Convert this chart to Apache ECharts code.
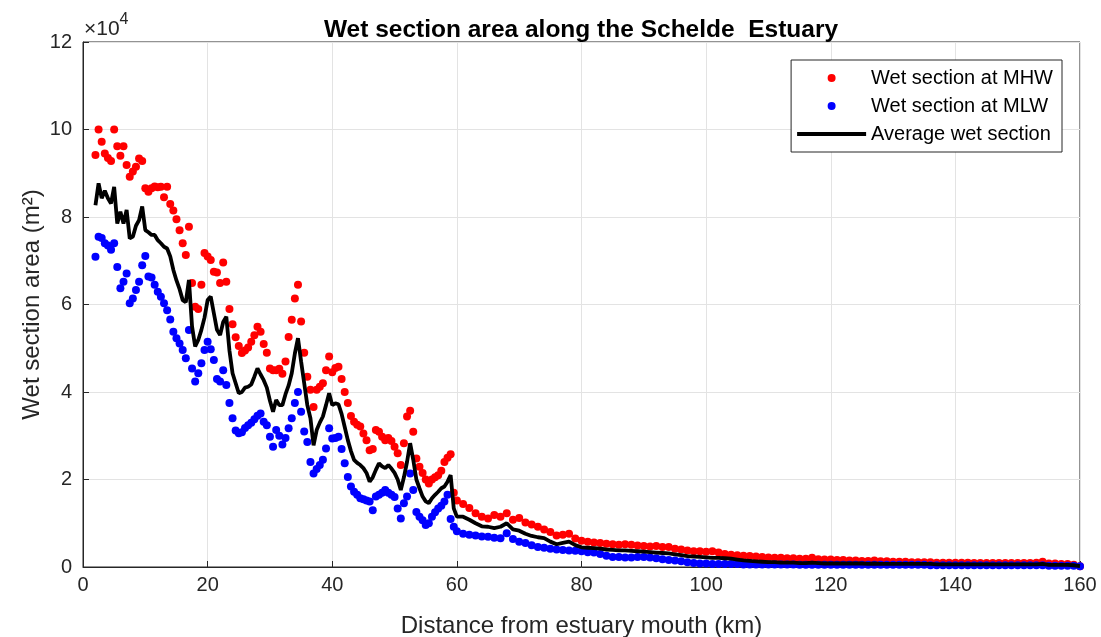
<!DOCTYPE html>
<html>
<head>
<meta charset="utf-8">
<script src="https://cdn.jsdelivr.net/npm/echarts@6/dist/echarts.min.js"></script>
<style>
  html, body { margin: 0; padding: 0; background: #fff; }
  #chart { width: 1101px; height: 637px; }
</style>
</head>
<body>
<div id="chart"></div>
<script>
// distance from estuary mouth (km)
var stationKm = [
  2,2.5,3,3.5,4,4.5,5,5.5,6,6.5,
  7,7.5,8,8.5,9,9.5,10,10.5,11,11.5,
  12,12.5,13,13.5,14,14.5,15,15.5,16,16.5,
  17,17.5,18,18.5,19,19.5,20,20.5,21,21.5,
  22,22.5,23,23.5,24,24.5,25,25.5,26,26.5,
  27,27.5,28,28.5,29,29.5,30,30.5,31,31.5,
  32,32.5,33,33.5,34,34.5,35,35.5,36,36.5,
  37,37.5,38,38.5,39,39.5,40,40.5,41,41.5,
  42,42.5,43,43.5,44,44.5,45,45.5,46,46.5,
  47,47.5,48,48.5,49,49.5,50,50.5,51,51.5,
  52,52.5,53,53.5,54,54.5,55,55.5,56,56.5,
  57,57.5,58,58.5,59,59.5,60,
  61,62,63,64,65,66,67,68,69,70,
  71,72,73,74,75,76,77,78,79,80,
  81,82,83,84,85,86,87,88,89,90,
  91,92,93,94,95,96,97,98,99,100,
  101,102,103,104,105,106,107,108,109,110,
  111,112,113,114,115,116,117,118,119,120,
  121,122,123,124,125,126,127,128,129,130,
  131,132,133,134,135,136,137,138,139,140,
  141,142,143,144,145,146,147,148,149,150,
  151,152,153,154,155,156,157,158,159,160
];

// wet section at MHW (x 10^4 m2)
var mhwArea = [
  9.42,10.0,9.72,9.45,9.35,9.28,10.0,9.62,9.40,9.62,
  9.19,8.92,9.04,9.15,9.34,9.28,8.66,8.58,8.66,8.70,
  8.68,8.69,8.45,8.69,8.30,8.15,7.95,7.70,7.40,7.13,
  7.78,6.49,5.95,5.90,6.45,7.18,7.10,7.02,6.75,6.73,
  6.49,6.96,6.52,5.90,5.55,5.25,5.05,4.89,4.95,5.02,
  5.15,5.30,5.49,5.38,5.10,4.90,4.54,4.50,4.50,4.53,
  4.42,4.70,5.26,5.65,6.14,6.45,5.61,4.90,4.35,4.05,
  3.66,4.05,4.12,4.20,4.50,4.81,4.45,4.55,4.58,4.30,
  4.00,3.75,3.45,3.32,3.25,3.21,3.05,2.90,2.67,2.70,
  3.13,3.09,2.98,2.90,2.95,2.88,2.75,2.60,2.33,2.83,
  3.44,3.57,3.09,2.48,2.29,2.15,2.00,1.91,2.00,2.05,
  2.10,2.20,2.40,2.50,2.58,1.70,1.52,
  1.44,1.35,1.23,1.15,1.11,1.19,1.15,1.23,1.08,1.12,
  1.02,0.97,0.92,0.86,0.80,0.72,0.74,0.76,0.65,0.60,
  0.58,0.56,0.55,0.53,0.52,0.51,0.52,0.51,0.49,0.48,
  0.47,0.48,0.46,0.46,0.42,0.40,0.38,0.36,0.36,0.35,
  0.36,0.33,0.30,0.28,0.27,0.26,0.25,0.24,0.23,0.22,
  0.21,0.21,0.20,0.20,0.19,0.19,0.21,0.18,0.17,0.17,
  0.16,0.16,0.15,0.15,0.14,0.14,0.15,0.13,0.13,0.12,
  0.12,0.12,0.11,0.11,0.11,0.11,0.10,0.10,0.10,0.10,
  0.10,0.10,0.09,0.09,0.09,0.09,0.09,0.09,0.09,0.09,
  0.09,0.09,0.10,0.12,0.08,0.08,0.07,0.07,0.05,0.02
];

// wet section at MLW (x 10^4 m2)
var mlwArea = [
  7.09,7.55,7.52,7.40,7.35,7.25,7.40,6.86,6.37,6.52,
  6.71,6.03,6.14,6.33,6.52,6.90,7.11,6.64,6.62,6.45,
  6.29,6.18,6.03,5.87,5.66,5.38,5.23,5.11,4.96,4.77,
  5.42,4.54,4.24,4.43,4.66,4.96,5.15,4.98,4.73,4.30,
  4.24,4.50,4.16,3.75,3.40,3.12,3.06,3.08,3.18,3.24,
  3.30,3.38,3.46,3.51,3.32,3.24,2.98,2.75,3.13,3.00,
  2.80,2.95,3.17,3.40,3.75,4.00,3.55,3.10,2.86,2.40,
  2.14,2.24,2.33,2.45,2.71,3.17,2.94,2.95,2.98,2.70,
  2.37,2.06,1.84,1.72,1.65,1.57,1.55,1.52,1.50,1.30,
  1.61,1.65,1.70,1.76,1.70,1.65,1.60,1.34,1.11,1.46,
  1.61,2.14,1.76,1.26,1.15,1.07,0.96,1.00,1.15,1.25,
  1.34,1.40,1.50,1.65,1.10,0.92,0.82,
  0.76,0.74,0.72,0.70,0.69,0.67,0.66,0.77,0.64,0.58,
  0.55,0.50,0.46,0.44,0.42,0.40,0.39,0.38,0.37,0.36,
  0.34,0.33,0.30,0.26,0.23,0.23,0.22,0.22,0.23,0.23,
  0.22,0.20,0.18,0.16,0.15,0.13,0.11,0.09,0.08,0.08,
  0.07,0.07,0.07,0.07,0.07,0.06,0.06,0.06,0.06,0.06,
  0.06,0.06,0.06,0.06,0.05,0.05,0.05,0.05,0.05,0.05,
  0.05,0.05,0.05,0.05,0.05,0.05,0.05,0.05,0.05,0.05,
  0.05,0.05,0.05,0.05,0.05,0.04,0.04,0.04,0.04,0.04,
  0.04,0.04,0.04,0.04,0.04,0.04,0.04,0.04,0.04,0.04,
  0.04,0.04,0.04,0.04,0.03,0.03,0.03,0.03,0.03,0.02
];

// average wet section (x 10^4 m2)
var avgArea = [
  8.27,8.77,8.43,8.60,8.43,8.31,8.69,7.85,8.12,7.85,
  8.16,7.51,7.55,7.80,7.93,8.24,7.70,7.65,7.59,7.59,
  7.47,7.40,7.32,7.28,7.10,6.79,6.55,6.35,6.10,6.05,
  6.56,5.50,5.04,5.19,5.42,5.70,6.10,6.18,5.80,5.42,
  5.30,5.60,5.72,4.95,4.43,4.20,3.97,4.00,4.10,4.12,
  4.17,4.35,4.54,4.40,4.27,4.10,3.80,3.55,3.82,3.70,
  3.70,3.95,4.15,4.43,4.88,5.23,4.70,4.20,3.70,3.40,
  2.78,3.13,3.30,3.44,3.70,3.97,3.70,3.74,3.72,3.50,
  3.20,2.90,2.65,2.45,2.38,2.33,2.26,2.15,1.95,2.05,
  2.22,2.37,2.30,2.26,2.33,2.25,2.15,2.00,1.76,2.05,
  2.40,2.83,2.45,2.00,1.80,1.61,1.50,1.46,1.57,1.65,
  1.72,1.80,1.84,1.95,2.10,1.34,1.15,
  1.15,1.08,1.00,0.93,0.92,0.89,0.92,1.00,0.86,0.83,
  0.76,0.71,0.68,0.66,0.58,0.52,0.55,0.58,0.50,0.45,
  0.44,0.43,0.42,0.40,0.39,0.38,0.38,0.37,0.36,0.35,
  0.34,0.33,0.32,0.31,0.29,0.27,0.25,0.24,0.23,0.22,
  0.21,0.21,0.20,0.19,0.17,0.15,0.14,0.13,0.12,0.11,
  0.11,0.10,0.10,0.10,0.09,0.09,0.10,0.09,0.08,0.08,
  0.08,0.08,0.08,0.08,0.08,0.07,0.08,0.07,0.07,0.07,
  0.07,0.07,0.07,0.07,0.07,0.07,0.06,0.06,0.06,0.06,
  0.06,0.06,0.06,0.06,0.06,0.06,0.06,0.06,0.06,0.06,
  0.06,0.06,0.06,0.07,0.05,0.05,0.05,0.05,0.04,0.02
];

var xTicks = [0, 20, 40, 60, 80, 100, 120, 140, 160];
var yTicks = [0, 2, 4, 6, 8, 10, 12];

function pairs(vals) {
  return stationKm.map(function (km, i) { return [km, vals[i]]; });
}

var font = 'Liberation Sans, Arial, Helvetica, sans-serif';
var chart = echarts.init(document.getElementById('chart'));

var option = {
  animation: false,
  backgroundColor: '#fff',
  textStyle: { fontFamily: font },
  title: {
    text: 'Wet section area along the Schelde  Estuary',
    left: 576,
    textAlign: 'center',
    top: 13,
    textStyle: { fontFamily: font, fontSize: 24.5, fontWeight: 'bold', color: '#000' }
  },
  grid: {
    left: 83, right: 21, top: 42, bottom: 70,
    outerBoundsMode: 'none',
    show: true, borderColor: '#262626', borderWidth: 1, backgroundColor: '#fff'
  },
  legend: {
    orient: 'vertical',
    right: 39,
    top: 60,
    padding: [8, 9, 8, 6],
    itemGap: 8,
    itemWidth: 69,
    itemHeight: 8,
    backgroundColor: '#fff',
    borderColor: '#262626',
    borderWidth: 1,
    textStyle: { fontFamily: font, fontSize: 20, color: '#000' },
    data: [
      { name: 'Wet section at MHW', icon: 'circle' },
      { name: 'Wet section at MLW', icon: 'circle' },
      { name: 'Average wet section', icon: 'path://M0,0 L69,0 L69,4 L0,4 Z' }
    ]
  },
  xAxis: {
    type: 'value',
    min: xTicks[0], max: xTicks[xTicks.length - 1], interval: 20,
    name: 'Distance from estuary mouth (km)',
    nameLocation: 'middle',
    nameGap: 47,
    nameMoveOverlap: false,
    nameTextStyle: { fontFamily: font, fontSize: 24, color: '#262626' },
    axisLine: { lineStyle: { color: '#262626' } },
    axisTick: { inside: true, length: 6, lineStyle: { color: '#262626' } },
    axisLabel: { fontFamily: font, fontSize: 20, color: '#262626', margin: 8 },
    splitLine: { show: true, lineStyle: { color: '#e3e3e3' } }
  },
  yAxis: {
    type: 'value',
    min: yTicks[0], max: yTicks[yTicks.length - 1], interval: 2,
    name: 'Wet section area (m\u00b2)',
    nameLocation: 'middle',
    nameGap: 39,
    nameMoveOverlap: false,
    nameRotate: 90,
    nameTextStyle: { fontFamily: font, fontSize: 24, color: '#262626' },
    axisLine: { show: true, lineStyle: { color: '#262626' } },
    axisTick: { show: true, inside: true, length: 6, lineStyle: { color: '#262626' } },
    axisLabel: { fontFamily: font, fontSize: 20, color: '#262626', margin: 11 },
    splitLine: { show: true, lineStyle: { color: '#e3e3e3' } }
  },
  graphic: [{
    type: 'text',
    left: 84,
    top: 12,
    style: {
      text: '{a|\u00d710}{b|4}',
      rich: {
        a: { fontFamily: font, fontSize: 21, fill: '#262626', verticalAlign: 'bottom' },
        b: { fontFamily: font, fontSize: 16, fill: '#262626', padding: [0, 0, 12, 0] }
      }
    }
  }],
  series: [
    {
      name: 'Wet section at MHW',
      type: 'scatter',
      symbol: 'circle',
      symbolSize: 8,
      itemStyle: { color: '#ff0000', opacity: 1 },
      data: pairs(mhwArea)
    },
    {
      name: 'Wet section at MLW',
      type: 'scatter',
      symbol: 'circle',
      symbolSize: 8,
      itemStyle: { color: '#0000ff', opacity: 1 },
      data: pairs(mlwArea)
    },
    {
      name: 'Average wet section',
      type: 'line',
      showSymbol: false,
      symbol: 'none',
      lineStyle: { color: '#000', width: 3.8 },
      itemStyle: { color: '#000' },
      data: pairs(avgArea)
    }
  ]
};

chart.setOption(option);
</script>
</body>
</html>
